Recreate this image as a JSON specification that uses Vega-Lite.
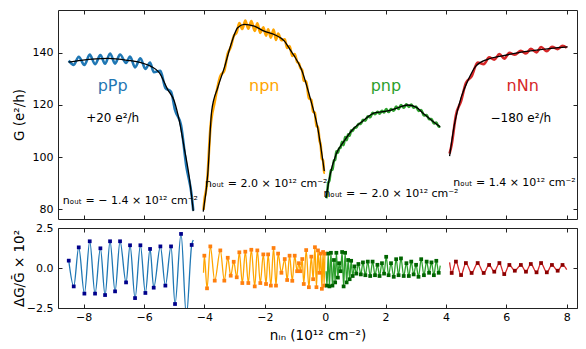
{
  "$schema": "https://vega.github.io/schema/vega-lite/v6.json",
  "padding": {"left": 11, "top": 9, "right": 8, "bottom": 4},
  "config": {
    "font": "DejaVu Sans",
    "view": {"stroke": "#222", "strokeWidth": 1},
    "axis": {"domain": false, "grid": false, "tickColor": "#222", "tickWidth": 1, "tickSize": -4, "labelFontSize": 11, "labelColor": "#000", "titleFontSize": 13.5, "titleFontWeight": "normal", "titleColor": "#000", "labelFlush": false, "labelOverlap": false}
  },
  "datasets": {
    "osc": [
      {"s": "pPp", "x": -8.494, "G": 137.0, "d": 0.46, "ext": true},
      {"s": "pPp", "x": -8.329, "G": 135.38, "d": -1.15, "ext": true},
      {"s": "pPp", "x": -8.163, "G": 138.49, "d": 1.29, "ext": true},
      {"s": "pPp", "x": -7.976, "G": 135.32, "d": -1.6, "ext": true},
      {"s": "pPp", "x": -7.799, "G": 139.31, "d": 1.67, "ext": true},
      {"s": "pPp", "x": -7.623, "G": 135.61, "d": -1.6, "ext": true},
      {"s": "pPp", "x": -7.446, "G": 139.09, "d": 1.23, "ext": true},
      {"s": "pPp", "x": -7.291, "G": 135.78, "d": -1.69, "ext": true},
      {"s": "pPp", "x": -7.126, "G": 139.74, "d": 1.67, "ext": true},
      {"s": "pPp", "x": -6.96, "G": 135.86, "d": -1.46, "ext": true},
      {"s": "pPp", "x": -6.795, "G": 139.35, "d": 1.67, "ext": true},
      {"s": "pPp", "x": -6.596, "G": 136.11, "d": -0.9, "ext": true},
      {"s": "pPp", "x": -6.464, "G": 138.6, "d": 1.42, "ext": true},
      {"s": "pPp", "x": -6.298, "G": 134.41, "d": -1.88, "ext": true},
      {"s": "pPp", "x": -6.121, "G": 137.89, "d": 1.42, "ext": true},
      {"s": "pPp", "x": -5.956, "G": 133.79, "d": -1.56, "ext": true},
      {"s": "pPp", "x": -5.801, "G": 136.3, "d": 1.19, "ext": true},
      {"s": "pPp", "x": -5.68, "G": 132.6, "d": -1.23, "ext": true},
      {"s": "pPp", "x": -5.459, "G": 133.09, "d": 1.35, "ext": true},
      {"s": "pPp", "x": -5.294, "G": 126.55, "d": -1.1, "ext": true},
      {"s": "pPp", "x": -5.106, "G": 125.07, "d": 1.35, "ext": true},
      {"s": "pPp", "x": -4.974, "G": 118.06, "d": -2.25, "ext": true},
      {"s": "pPp", "x": -4.775, "G": 112.21, "d": 2.13, "ext": true},
      {"s": "pPp", "x": -4.598, "G": 96.36, "d": -3.0, "ext": true},
      {"s": "pPp", "x": -4.422, "G": 85.35, "d": 1.44, "ext": true},
      {"s": "pPp", "x": -4.37, "G": 79.5, "d": 1.75, "ext": false},
      {"s": "npn", "x": -4.03, "G": 79.8, "d": -0.3, "ext": false},
      {"s": "npn", "x": -4.003, "G": 83.27, "d": 0.77, "ext": true},
      {"s": "npn", "x": -3.914, "G": 89.95, "d": -1.27, "ext": true},
      {"s": "npn", "x": -3.805, "G": 110.77, "d": 1.35, "ext": true},
      {"s": "npn", "x": -3.659, "G": 121.22, "d": -0.79, "ext": true},
      {"s": "npn", "x": -3.474, "G": 131.04, "d": 1.1, "ext": true},
      {"s": "npn", "x": -3.341, "G": 133.21, "d": -0.79, "ext": true},
      {"s": "npn", "x": -3.228, "G": 139.72, "d": 0.64, "ext": true},
      {"s": "npn", "x": -3.129, "G": 142.15, "d": -0.48, "ext": true},
      {"s": "npn", "x": -3.03, "G": 146.39, "d": 0.39, "ext": true},
      {"s": "npn", "x": -2.93, "G": 147.87, "d": -0.58, "ext": true},
      {"s": "npn", "x": -2.844, "G": 151.4, "d": 0.98, "ext": true},
      {"s": "npn", "x": -2.745, "G": 149.11, "d": -0.94, "ext": true},
      {"s": "npn", "x": -2.646, "G": 152.37, "d": 1.02, "ext": true},
      {"s": "npn", "x": -2.546, "G": 149.2, "d": -0.94, "ext": true},
      {"s": "npn", "x": -2.447, "G": 152.12, "d": 1.14, "ext": true},
      {"s": "npn", "x": -2.334, "G": 148.38, "d": -1.15, "ext": true},
      {"s": "npn", "x": -2.248, "G": 151.26, "d": 1.1, "ext": true},
      {"s": "npn", "x": -2.149, "G": 147.64, "d": -0.94, "ext": true},
      {"s": "npn", "x": -2.05, "G": 149.73, "d": 0.85, "ext": true},
      {"s": "npn", "x": -1.96, "G": 146.58, "d": -1.0, "ext": true},
      {"s": "npn", "x": -1.89, "G": 149.05, "d": 0.85, "ext": true},
      {"s": "npn", "x": -1.8, "G": 145.81, "d": -1.1, "ext": true},
      {"s": "npn", "x": -1.71, "G": 148.92, "d": 1.25, "ext": true},
      {"s": "npn", "x": -1.63, "G": 144.95, "d": -1.1, "ext": true},
      {"s": "npn", "x": -1.56, "G": 147.35, "d": 0.9, "ext": true},
      {"s": "npn", "x": -1.45, "G": 144.8, "d": -0.3, "ext": true},
      {"s": "npn", "x": -1.34, "G": 145.13, "d": 0.56, "ext": true},
      {"s": "npn", "x": -1.26, "G": 141.83, "d": -0.75, "ext": true},
      {"s": "npn", "x": -1.18, "G": 142.58, "d": 0.77, "ext": true},
      {"s": "npn", "x": -1.09, "G": 138.79, "d": -0.8, "ext": true},
      {"s": "npn", "x": -1.01, "G": 139.56, "d": 0.77, "ext": true},
      {"s": "npn", "x": -0.93, "G": 136.51, "d": -0.2, "ext": true},
      {"s": "npn", "x": -0.87, "G": 135.91, "d": 0.3, "ext": true},
      {"s": "npn", "x": -0.82, "G": 134.16, "d": -0.2, "ext": true},
      {"s": "npn", "x": -0.76, "G": 133.22, "d": 0.56, "ext": true},
      {"s": "npn", "x": -0.71, "G": 129.28, "d": -1.0, "ext": true},
      {"s": "npn", "x": -0.63, "G": 128.99, "d": 1.12, "ext": true},
      {"s": "npn", "x": -0.54, "G": 122.66, "d": -1.2, "ext": true},
      {"s": "npn", "x": -0.46, "G": 121.9, "d": 0.71, "ext": true},
      {"s": "npn", "x": -0.4, "G": 117.42, "d": -0.7, "ext": true},
      {"s": "npn", "x": -0.34, "G": 116.97, "d": 1.3, "ext": true},
      {"s": "npn", "x": -0.29, "G": 111.79, "d": -1.2, "ext": true},
      {"s": "npn", "x": -0.24, "G": 111.77, "d": 1.1, "ext": true},
      {"s": "npn", "x": -0.19, "G": 106.45, "d": -0.3, "ext": true},
      {"s": "npn", "x": -0.15, "G": 104.68, "d": 0.9, "ext": true},
      {"s": "npn", "x": -0.11, "G": 99.43, "d": -1.3, "ext": true},
      {"s": "npn", "x": -0.07, "G": 98.7, "d": 1.0, "ext": true},
      {"s": "npn", "x": -0.035, "G": 94.03, "d": -1.1, "ext": true},
      {"s": "npn", "x": -0.01, "G": 94.04, "d": 0.9, "ext": true},
      {"s": "pnp", "x": 0.03, "G": 84.23, "d": -0.2, "ext": false},
      {"s": "pnp", "x": 0.06, "G": 85.55, "d": -1.1, "ext": true},
      {"s": "pnp", "x": 0.1, "G": 90.1, "d": 0.9, "ext": true},
      {"s": "pnp", "x": 0.14, "G": 91.04, "d": -1.15, "ext": true},
      {"s": "pnp", "x": 0.19, "G": 95.04, "d": 0.95, "ext": true},
      {"s": "pnp", "x": 0.24, "G": 95.13, "d": -1.1, "ext": true},
      {"s": "pnp", "x": 0.29, "G": 98.73, "d": 0.5, "ext": true},
      {"s": "pnp", "x": 0.33, "G": 98.97, "d": -0.9, "ext": true},
      {"s": "pnp", "x": 0.37, "G": 102.25, "d": 0.95, "ext": true},
      {"s": "pnp", "x": 0.42, "G": 101.62, "d": -0.6, "ext": true},
      {"s": "pnp", "x": 0.46, "G": 103.3, "d": 0.3, "ext": true},
      {"s": "pnp", "x": 0.51, "G": 103.73, "d": -0.2, "ext": true},
      {"s": "pnp", "x": 0.56, "G": 105.93, "d": 1.0, "ext": true},
      {"s": "pnp", "x": 0.61, "G": 104.61, "d": -1.15, "ext": true},
      {"s": "pnp", "x": 0.66, "G": 107.68, "d": 0.95, "ext": true},
      {"s": "pnp", "x": 0.71, "G": 106.49, "d": -0.9, "ext": true},
      {"s": "pnp", "x": 0.76, "G": 108.78, "d": 0.5, "ext": true},
      {"s": "pnp", "x": 0.81, "G": 108.27, "d": -0.7, "ext": true},
      {"s": "pnp", "x": 0.86, "G": 110.3, "d": 0.45, "ext": true},
      {"s": "pnp", "x": 0.91, "G": 110.05, "d": -0.5, "ext": true},
      {"s": "pnp", "x": 0.97, "G": 111.29, "d": 0.1, "ext": true},
      {"s": "pnp", "x": 1.03, "G": 111.37, "d": -0.35, "ext": true},
      {"s": "pnp", "x": 1.1, "G": 112.72, "d": 0.25, "ext": true},
      {"s": "pnp", "x": 1.18, "G": 112.77, "d": -0.4, "ext": true},
      {"s": "pnp", "x": 1.25, "G": 114.28, "d": 0.35, "ext": true},
      {"s": "pnp", "x": 1.33, "G": 114.02, "d": -0.45, "ext": true},
      {"s": "pnp", "x": 1.41, "G": 115.65, "d": 0.4, "ext": true},
      {"s": "pnp", "x": 1.49, "G": 115.27, "d": -0.5, "ext": true},
      {"s": "pnp", "x": 1.57, "G": 116.98, "d": 0.4, "ext": true},
      {"s": "pnp", "x": 1.65, "G": 116.5, "d": -0.45, "ext": true},
      {"s": "pnp", "x": 1.73, "G": 117.39, "d": 0.2, "ext": true},
      {"s": "pnp", "x": 1.8, "G": 116.68, "d": -0.5, "ext": true},
      {"s": "pnp", "x": 1.88, "G": 117.75, "d": 0.3, "ext": true},
      {"s": "pnp", "x": 1.95, "G": 117.1, "d": -0.35, "ext": true},
      {"s": "pnp", "x": 2.02, "G": 118.44, "d": 0.7, "ext": true},
      {"s": "pnp", "x": 2.1, "G": 117.28, "d": -0.45, "ext": true},
      {"s": "pnp", "x": 2.18, "G": 118.45, "d": 0.3, "ext": true},
      {"s": "pnp", "x": 2.27, "G": 117.77, "d": -0.55, "ext": true},
      {"s": "pnp", "x": 2.35, "G": 119.36, "d": 0.55, "ext": true},
      {"s": "pnp", "x": 2.43, "G": 118.46, "d": -0.45, "ext": true},
      {"s": "pnp", "x": 2.51, "G": 119.98, "d": 0.6, "ext": true},
      {"s": "pnp", "x": 2.6, "G": 118.96, "d": -0.5, "ext": true},
      {"s": "pnp", "x": 2.69, "G": 120.22, "d": 0.3, "ext": true},
      {"s": "pnp", "x": 2.77, "G": 119.29, "d": -0.5, "ext": true},
      {"s": "pnp", "x": 2.85, "G": 120.14, "d": 0.4, "ext": true},
      {"s": "pnp", "x": 2.93, "G": 118.95, "d": -0.4, "ext": true},
      {"s": "pnp", "x": 3.01, "G": 119.44, "d": 0.2, "ext": true},
      {"s": "pnp", "x": 3.09, "G": 117.72, "d": -0.55, "ext": true},
      {"s": "pnp", "x": 3.18, "G": 118.08, "d": 0.55, "ext": true},
      {"s": "pnp", "x": 3.27, "G": 115.98, "d": -0.45, "ext": true},
      {"s": "pnp", "x": 3.36, "G": 116.12, "d": 0.4, "ext": true},
      {"s": "pnp", "x": 3.44, "G": 114.57, "d": -0.3, "ext": true},
      {"s": "pnp", "x": 3.52, "G": 114.57, "d": 0.35, "ext": true},
      {"s": "pnp", "x": 3.6, "G": 112.94, "d": -0.45, "ext": true},
      {"s": "pnp", "x": 3.68, "G": 113.25, "d": 0.45, "ext": true},
      {"s": "pnp", "x": 3.76, "G": 111.7, "d": -0.3, "ext": true},
      {"s": "pnp", "x": 3.81, "G": 111.77, "d": 0.15, "ext": false},
      {"s": "nNn", "x": 4.12, "G": 101.38, "d": 0.35, "ext": false},
      {"s": "nNn", "x": 4.19, "G": 104.85, "d": -0.31, "ext": true},
      {"s": "nNn", "x": 4.33, "G": 116.1, "d": 0.4, "ext": true},
      {"s": "nNn", "x": 4.5, "G": 121.47, "d": -0.44, "ext": true},
      {"s": "nNn", "x": 4.66, "G": 128.41, "d": 0.31, "ext": true},
      {"s": "nNn", "x": 4.85, "G": 130.97, "d": -0.31, "ext": true},
      {"s": "nNn", "x": 5.05, "G": 136.28, "d": 0.31, "ext": true},
      {"s": "nNn", "x": 5.25, "G": 135.65, "d": -0.31, "ext": true},
      {"s": "nNn", "x": 5.43, "G": 138.24, "d": 0.19, "ext": true},
      {"s": "nNn", "x": 5.6, "G": 137.37, "d": -0.23, "ext": true},
      {"s": "nNn", "x": 5.77, "G": 139.55, "d": 0.31, "ext": true},
      {"s": "nNn", "x": 5.93, "G": 137.75, "d": -0.38, "ext": true},
      {"s": "nNn", "x": 6.1, "G": 139.97, "d": 0.19, "ext": true},
      {"s": "nNn", "x": 6.28, "G": 139.25, "d": -0.17, "ext": true},
      {"s": "nNn", "x": 6.48, "G": 140.79, "d": 0.19, "ext": true},
      {"s": "nNn", "x": 6.65, "G": 139.72, "d": -0.23, "ext": true},
      {"s": "nNn", "x": 6.81, "G": 141.52, "d": 0.25, "ext": true},
      {"s": "nNn", "x": 7.0, "G": 140.14, "d": -0.27, "ext": true},
      {"s": "nNn", "x": 7.15, "G": 142.23, "d": 0.31, "ext": true},
      {"s": "nNn", "x": 7.34, "G": 140.63, "d": -0.27, "ext": true},
      {"s": "nNn", "x": 7.51, "G": 142.34, "d": 0.19, "ext": true},
      {"s": "nNn", "x": 7.7, "G": 141.39, "d": -0.17, "ext": true},
      {"s": "nNn", "x": 7.86, "G": 142.72, "d": 0.19, "ext": true},
      {"s": "nNn", "x": 8.0, "G": 141.95, "d": -0.1, "ext": false}
    ],
    "smooth": [
      {"s": "pPp", "x": -8.5, "G": 136.45},
      {"s": "pPp", "x": -8.09, "G": 137.1},
      {"s": "pPp", "x": -7.2, "G": 137.85},
      {"s": "pPp", "x": -6.54, "G": 137.1},
      {"s": "pPp", "x": -6.1, "G": 136.2},
      {"s": "pPp", "x": -5.77, "G": 134.8},
      {"s": "pPp", "x": -5.49, "G": 132.3},
      {"s": "pPp", "x": -5.22, "G": 126.0},
      {"s": "pPp", "x": -5.0, "G": 121.5},
      {"s": "pPp", "x": -4.83, "G": 113.8},
      {"s": "pPp", "x": -4.67, "G": 103.6},
      {"s": "pPp", "x": -4.5, "G": 92.1},
      {"s": "pPp", "x": -4.37, "G": 79.3},
      {"s": "npn", "x": -4.04, "G": 79.1},
      {"s": "npn", "x": -3.89, "G": 93.4},
      {"s": "npn", "x": -3.76, "G": 117.7},
      {"s": "npn", "x": -3.56, "G": 126.6},
      {"s": "npn", "x": -3.34, "G": 134.3},
      {"s": "npn", "x": -3.12, "G": 143.2},
      {"s": "npn", "x": -2.9, "G": 149.6},
      {"s": "npn", "x": -2.68, "G": 150.9},
      {"s": "npn", "x": -2.35, "G": 150.2},
      {"s": "npn", "x": -2.02, "G": 148.3},
      {"s": "npn", "x": -1.69, "G": 147.0},
      {"s": "npn", "x": -1.35, "G": 144.5},
      {"s": "npn", "x": -1.13, "G": 140.6},
      {"s": "npn", "x": -1.02, "G": 138.7},
      {"s": "npn", "x": -0.8, "G": 134.0},
      {"s": "npn", "x": -0.47, "G": 121.5},
      {"s": "npn", "x": -0.25, "G": 111.3},
      {"s": "npn", "x": -0.03, "G": 94.7},
      {"s": "pnp", "x": 0.03, "G": 84.4},
      {"s": "pnp", "x": 0.14, "G": 92.1},
      {"s": "pnp", "x": 0.36, "G": 101.1},
      {"s": "pnp", "x": 0.63, "G": 106.2},
      {"s": "pnp", "x": 0.91, "G": 110.6},
      {"s": "pnp", "x": 1.24, "G": 113.8},
      {"s": "pnp", "x": 1.63, "G": 117.0},
      {"s": "pnp", "x": 2.07, "G": 117.7},
      {"s": "pnp", "x": 2.4, "G": 118.9},
      {"s": "pnp", "x": 2.73, "G": 120.0},
      {"s": "pnp", "x": 3.01, "G": 119.2},
      {"s": "pnp", "x": 3.28, "G": 116.4},
      {"s": "pnp", "x": 3.56, "G": 113.8},
      {"s": "pnp", "x": 3.81, "G": 111.6},
      {"s": "nNn", "x": 4.12, "G": 100.4},
      {"s": "nNn", "x": 4.28, "G": 112.6},
      {"s": "nNn", "x": 4.5, "G": 122.8},
      {"s": "nNn", "x": 4.72, "G": 129.2},
      {"s": "nNn", "x": 4.99, "G": 134.9},
      {"s": "nNn", "x": 5.38, "G": 137.5},
      {"s": "nNn", "x": 5.82, "G": 138.7},
      {"s": "nNn", "x": 6.37, "G": 140.0},
      {"s": "nNn", "x": 6.92, "G": 140.9},
      {"s": "nNn", "x": 7.48, "G": 141.7},
      {"s": "nNn", "x": 8.03, "G": 142.3}
    ],
    "names": [
      {"s": "pPp", "x": -7.04, "G": 127.2},
      {"s": "npn", "x": -2.02, "G": 127.2},
      {"s": "pnp", "x": 2.01, "G": 127.2},
      {"s": "nNn", "x": 6.54, "G": 127.2}
    ],
    "offsets": [
      {"t": "+20 e²/h", "x": -7.04, "G": 114.9},
      {"t": "−180 e²/h", "x": 6.48, "G": 115.1}
    ],
    "nout": [
      {"t": "nₒᵤₜ = − 1.4 × 10¹² cm⁻²", "x": -8.69, "G": 83.2},
      {"t": "nₒᵤₜ = 2.0 × 10¹² cm⁻²", "x": -3.98, "G": 89.8},
      {"t": "nₒᵤₜ = − 2.0 × 10¹² cm⁻²", "x": -0.06, "G": 86.0},
      {"t": "nₒᵤₜ = 1.4 × 10¹² cm⁻²", "x": 4.24, "G": 90.2}
    ]
  },
  "vconcat": [
    {
      "width": 519,
      "height": 209,
      "layer": [
        {
          "data": {"name": "osc"},
          "mark": {"type": "line", "interpolate": "monotone", "strokeWidth": 2.6, "clip": true},
          "encoding": {
            "x": {"field": "x", "type": "quantitative", "scale": {"domain": [-8.85, 8.34], "nice": false, "zero": false},
                  "axis": {"orient": "bottom", "values": [-8, -6, -4, -2, 0, 2, 4, 6, 8], "labels": false, "title": null}},
            "y": {"field": "G", "type": "quantitative", "scale": {"domain": [76.3, 156.4], "nice": false, "zero": false},
                  "axis": {"orient": "left", "values": [80, 100, 120, 140], "labelPadding": 9, "title": "G (e²/h)", "titleX": -39, "titleBaseline": "middle", "titleAngle": -90}},
            "color": {"field": "s", "type": "nominal", "scale": {"domain": ["pPp", "npn", "pnp", "nNn"], "range": ["#1f77b4", "#ffa500", "#2ca02c", "#d62728"]}, "legend": null}
          }
        },
        {
          "data": {"name": "smooth"},
          "mark": {"type": "line", "interpolate": "monotone", "color": "#000", "strokeWidth": 1.3, "clip": true},
          "encoding": {
            "x": {"field": "x", "type": "quantitative", "axis": {"orient": "top", "values": [-8, -6, -4, -2, 0, 2, 4, 6, 8], "labels": false, "title": null}},
            "y": {"field": "G", "type": "quantitative", "axis": {"orient": "right", "values": [80, 100, 120, 140], "labels": false, "title": null}},
            "detail": {"field": "s", "type": "nominal"}
          }
        },
        {
          "data": {"name": "names"},
          "mark": {"type": "text", "fontSize": 16, "align": "center", "baseline": "middle"},
          "encoding": {
            "x": {"field": "x", "type": "quantitative", "axis": null},
            "y": {"field": "G", "type": "quantitative", "axis": null},
            "text": {"field": "s"},
            "color": {"field": "s", "type": "nominal", "legend": null}
          }
        },
        {
          "data": {"name": "offsets"},
          "mark": {"type": "text", "fontSize": 12, "align": "center", "baseline": "middle", "color": "#000"},
          "encoding": {
            "x": {"field": "x", "type": "quantitative", "axis": null},
            "y": {"field": "G", "type": "quantitative", "axis": null},
            "text": {"field": "t"}
          }
        },
        {
          "data": {"name": "nout"},
          "mark": {"type": "text", "fontSize": 11, "align": "left", "baseline": "middle", "color": "#000"},
          "encoding": {
            "x": {"field": "x", "type": "quantitative", "axis": null},
            "y": {"field": "G", "type": "quantitative", "axis": null},
            "text": {"field": "t"}
          }
        }
      ],
      "resolve": {"axis": {"x": "independent", "y": "independent"}}
    },
    {
      "width": 519,
      "height": 80,
      "layer": [
        {
          "data": {"name": "osc"},
          "mark": {"type": "line", "interpolate": "monotone", "strokeWidth": 1.3, "clip": true},
          "encoding": {
            "x": {"field": "x", "type": "quantitative", "scale": {"domain": [-8.85, 8.34], "nice": false, "zero": false},
                  "axis": {"orient": "bottom", "values": [-8, -6, -4, -2, 0, 2, 4, 6, 8], "format": "d", "labelPadding": 7, "title": "nᵢₙ (10¹² cm⁻²)", "titleY": 27, "titleBaseline": "middle"}},
            "y": {"field": "d", "type": "quantitative", "scale": {"domain": [-2.5, 2.5], "nice": false, "zero": false},
                  "axis": {"orient": "left", "values": [-2.5, 0, 2.5], "format": ".1f", "labelPadding": 9, "title": "ΔG/Ḡ × 10²", "titleX": -39, "titleBaseline": "middle", "titleAngle": -90}},
            "color": {"field": "s", "type": "nominal", "scale": {"domain": ["pPp", "npn", "pnp", "nNn"], "range": ["#1f77b4", "#ffa500", "#2ca02c", "#d62728"]}, "legend": null}
          }
        },
        {
          "data": {"name": "osc"},
          "transform": [{"filter": "datum.ext"}],
          "mark": {"type": "point", "shape": "square", "filled": true, "size": 14, "opacity": 1, "clip": true},
          "encoding": {
            "x": {"field": "x", "type": "quantitative", "axis": {"orient": "top", "values": [-8, -6, -4, -2, 0, 2, 4, 6, 8], "labels": false, "title": null}},
            "y": {"field": "d", "type": "quantitative", "axis": {"orient": "right", "values": [-2.5, 0, 2.5], "labels": false, "title": null}},
            "color": {"field": "s", "type": "nominal", "scale": {"domain": ["pPp", "npn", "pnp", "nNn"], "range": ["#00008b", "#ff7f0e", "#006400", "#8b0000"]}, "legend": null}
          }
        }
      ],
      "resolve": {"axis": {"x": "independent", "y": "independent"}, "scale": {"color": "independent"}}
    }
  ],
  "spacing": 9,
  "bounds": "flush"
}
